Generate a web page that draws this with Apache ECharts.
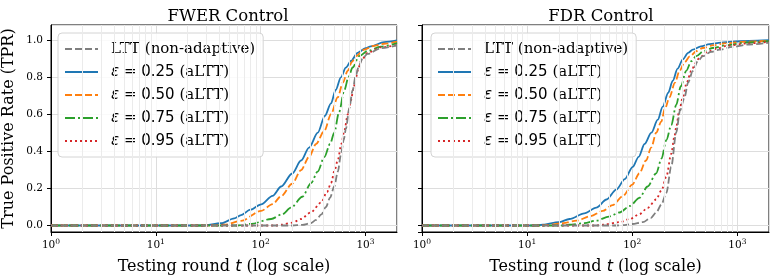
<!DOCTYPE html>
<html>
<head>
<meta charset="utf-8">
<script src="https://cdn.jsdelivr.net/npm/echarts@6/dist/echarts.min.js"></script>
<style>html,body{margin:0;padding:0;background:#fff}#chart{width:777px;height:280px}</style>
</head>
<body>
<div id="chart"></div>
<script>
// legend / series names
var names = ['LTT (non-adaptive)', 'ε = 0.25 (aLTT)', 'ε = 0.50 (aLTT)', 'ε = 0.75 (aLTT)', 'ε = 0.95 (aLTT)'];
var panelTitles = ['FWER Control', 'FDR Control'];
var minorTicks = [2, 3, 4, 5, 6, 7, 8, 9, 20, 30, 40, 50, 60, 70, 80, 90, 200, 300, 400, 500, 600, 700, 800, 900];

// FWER panel, [t, TPR]
var fwerLTT = [[1,0],[200,0],[250,0.003],[300,0.012],[338,0.03],[380,0.06],[420,0.1],[460,0.15],[504,0.21],[545,0.29],[583,0.38],[620,0.46],[651,0.52],[700,0.63],[754,0.728],[810,0.81],[871,0.865],[950,0.905],[1048,0.924],[1400,0.955],[2000,0.97]];
var fwerE25 = [[1,0],[28,0],[42,0.012],[56,0.038],[65,0.056],[80,0.085],[101,0.114],[130,0.16],[157,0.21],[200,0.28],[243,0.35],[290,0.42],[351,0.5],[410,0.59],[469,0.658],[520,0.73],[583,0.798],[650,0.85],[727,0.886],[841,0.93],[1000,0.955],[1125,0.965],[1506,0.988],[2000,0.997]];
var fwerE50 = [[1,0],[35,0],[45,0.004],[65,0.025],[101,0.079],[130,0.115],[157,0.158],[200,0.225],[243,0.298],[290,0.37],[338,0.439],[405,0.51],[470,0.6],[543,0.69],[610,0.77],[676,0.833],[740,0.88],[811,0.912],[973,0.947],[1200,0.968],[1506,0.979],[2000,0.99]];
var fwerE75 = [[1,0],[60,0],[81,0.009],[126,0.035],[160,0.06],[195,0.096],[250,0.155],[303,0.228],[350,0.29],[405,0.368],[460,0.44],[504,0.5],[560,0.61],[628,0.728],[690,0.8],[754,0.851],[871,0.912],[1048,0.94],[1400,0.963],[2000,0.982]];
var fwerE95 = [[1,0],[140,0],[157,0.004],[200,0.015],[243,0.035],[300,0.07],[377,0.123],[430,0.18],[469,0.228],[510,0.3],[543,0.35],[590,0.44],[628,0.51],[680,0.6],[727,0.675],[770,0.74],[811,0.798],[860,0.85],[905,0.886],[1048,0.93],[1400,0.96],[2000,0.972]];

// FDR panel, [t, TPR]
var fdrLTT = [[1,0],[70,0],[81.5,0.002],[100,0.008],[126,0.018],[150,0.04],[169,0.07],[190,0.115],[211,0.175],[235,0.316],[262,0.5],[285,0.62],[314,0.69],[340,0.77],[377,0.833],[420,0.885],[469,0.912],[560,0.935],[676,0.947],[900,0.962],[1300,0.975],[2000,0.985]];
var fdrE25 = [[1,0],[12,0],[14.1,0.004],[20,0.018],[25.3,0.035],[35,0.065],[45.5,0.096],[57,0.14],[70.5,0.193],[85,0.25],[101,0.316],[115,0.37],[131,0.439],[152,0.5],[175,0.57],[195,0.64],[220,0.715],[243,0.78],[270,0.845],[303,0.895],[340,0.93],[377,0.947],[450,0.965],[543,0.977],[700,0.985],[903,0.99],[1300,0.995],[2000,0.998]];
var fdrE50 = [[1,0],[14,0],[16.4,0.004],[22,0.013],[29.4,0.026],[40,0.05],[52.5,0.079],[65,0.11],[81.5,0.158],[100,0.22],[117,0.281],[135,0.35],[152,0.421],[169,0.5],[189,0.56],[205,0.63],[226,0.69],[255,0.77],[282,0.833],[315,0.88],[354,0.912],[410,0.94],[469,0.956],[600,0.972],[783,0.982],[1200,0.99],[2000,0.995]];
var fdrE75 = [[1,0],[22,0],[25,0.004],[35,0.013],[45.5,0.026],[60,0.048],[75.7,0.07],[95,0.105],[117,0.149],[140,0.21],[169,0.281],[190,0.36],[211,0.46],[235,0.54],[262,0.65],[290,0.75],[326,0.833],[365,0.885],[406,0.912],[480,0.94],[583,0.956],[800,0.972],[1200,0.985],[2000,0.993]];
var fdrE95 = [[1,0],[45,0],[52.5,0.004],[75.7,0.018],[95,0.035],[117,0.061],[140,0.095],[169,0.14],[190,0.19],[211,0.263],[235,0.386],[252,0.48],[262,0.53],[280,0.62],[303,0.69],[330,0.77],[364,0.833],[400,0.875],[436,0.904],[520,0.935],[628,0.952],[800,0.968],[1200,0.98],[2000,0.99]];

var colors = ['#7f7f7f', '#1f77b4', '#ff7f0e', '#2ca02c', '#d62728'];
var dashes = [[7, 3], 'solid', [7, 3], [10, 3, 2, 3], [2, 3]];

var serif = 'DejaVu Serif';
var sans = 'DejaVu Sans';

function legendFmt(n) {
    var m = n.match(/^ε = ([\d.]+) \(aLTT\)$/);
    if (m) return '{g|\u00a0}{e|ε}{m| = ' + m[1] + '}{s| (aLTT)}';
    return '{g|\u00a0}{s|' + n + '}';
}

function mkLegend(left) {
    return {
        left: left, top: 33, orient: 'vertical', data: names,
        itemWidth: 33, itemHeight: 10, itemGap: 5,
        padding: [7, 8, 7, 6],
        backgroundColor: 'rgba(255,255,255,0.85)', borderColor: '#d4d4d4', borderWidth: 1, borderRadius: 4,
        selectedMode: false,
        formatter: legendFmt,
        itemStyle: {opacity: 0},
        textStyle: {
            color: '#000', fontSize: 15, lineHeight: 18,
            rich: {
                g: {width: 8, fontSize: 15, fontFamily: serif},
                e: {fontFamily: sans, fontStyle: 'italic', fontSize: 15, color: '#000'},
                m: {fontFamily: sans, fontSize: 15, color: '#000'},
                s: {fontFamily: serif, fontSize: 15, color: '#000'}
            }
        }
    };
}

function mkX(i) {
    return {
        type: 'log', logBase: 10, min: 1, max: 2000, gridIndex: i,
        name: '{s|Testing round }{t|t}{s| (log scale)}', nameLocation: 'middle', nameGap: 27,
        nameTextStyle: {rich: {
            s: {fontFamily: serif, fontSize: 16, color: '#000'},
            t: {fontFamily: sans, fontStyle: 'italic', fontSize: 16, color: '#000'}
        }},
        axisLine: {onZero: false, lineStyle: {color: '#000', width: 1}},
        axisTick: {show: true, inside: false, length: 4, lineStyle: {color: '#000'}},
        axisLabel: {
            margin: 6, showMaxLabel: false,
            formatter: function (v) { return '{b|10}{p|' + Math.round(Math.log10(v)) + '}'; },
            rich: {
                b: {fontFamily: serif, fontSize: 10.5, color: '#000'},
                p: {fontFamily: serif, fontSize: 7.5, color: '#000', verticalAlign: 'top', padding: [0, 0, 6, 0]}
            }
        },
        splitLine: {show: true, lineStyle: {color: '#dddddd', width: 1}}
    };
}

function mkY(i) {
    return {
        type: 'value', min: -0.035, max: 1.08, splitNumber: 5, gridIndex: i,
        name: i === 0 ? 'True Positive Rate (TPR)' : '', nameLocation: 'middle', nameGap: 34,
        nameTextStyle: {fontFamily: serif, fontSize: 16, color: '#000'},
        axisLine: {show: true, lineStyle: {color: '#000', width: 1}},
        axisTick: {show: true, inside: false, length: 4, lineStyle: {color: '#000'}},
        axisLabel: {
            show: i === 0, showMinLabel: false, showMaxLabel: false, margin: 8,
            fontFamily: serif, fontSize: 10.5, color: '#000',
            formatter: function (v) { return v.toFixed(1); }
        },
        splitLine: {show: true, lineStyle: {color: '#dddddd', width: 1}}
    };
}

function mkSeries(name, data, i, k) {
    return {
        type: 'line', name: name, xAxisIndex: i, yAxisIndex: i, data: data,
        symbol: 'none', showSymbol: false, smooth: 0.3, smoothMonotone: 'x',
        lineStyle: {color: colors[k], width: 1.8, type: dashes[k]},
        itemStyle: {color: colors[k]},
        z: 3, animation: false
    };
}

function mkMinor(i) {
    return {
        type: 'line', xAxisIndex: i, yAxisIndex: i, data: [], silent: true, z: 1,
        markLine: {
            silent: true, symbol: 'none', animation: false,
            label: {show: false},
            lineStyle: {color: '#ebebeb', width: 1, type: 'solid'},
            data: minorTicks.map(function (v) { return {xAxis: v}; })
        }
    };
}

var panels = [
    [fwerLTT, fwerE25, fwerE50, fwerE75, fwerE95],
    [fdrLTT, fdrE25, fdrE50, fdrE75, fdrE95]
];

var series = [];
panels.forEach(function (p, i) {
    series.push(mkMinor(i));
    // aLTT curves first, LTT drawn last (on top)
    for (var k = 1; k < 5; k++) series.push(mkSeries(names[k], p[k], i, k));
    series.push(mkSeries(names[0], p[0], i, 0));
});

var option = {
    backgroundColor: '#fff',
    animation: false,
    title: [
        {text: panelTitles[0], left: 223, top: 3, textAlign: 'center', textStyle: {fontFamily: serif, fontSize: 16.5, fontWeight: 'normal', color: '#000'}},
        {text: panelTitles[1], left: 596, top: 3, textAlign: 'center', textStyle: {fontFamily: serif, fontSize: 16.5, fontWeight: 'normal', color: '#000'}}
    ],
    legend: [mkLegend(58), mkLegend(431)],
    grid: [
        {left: 49, right: 380, top: 25, bottom: 43, show: true, borderColor: '#000', borderWidth: 1},
        {left: 422, right: 8, top: 25, bottom: 43, show: true, borderColor: '#000', borderWidth: 1}
    ],
    xAxis: [mkX(0), mkX(1)],
    yAxis: [mkY(0), mkY(1)],
    series: series
};

var chart = echarts.init(document.getElementById('chart'));
chart.setOption(option);
</script>
</body>
</html>
